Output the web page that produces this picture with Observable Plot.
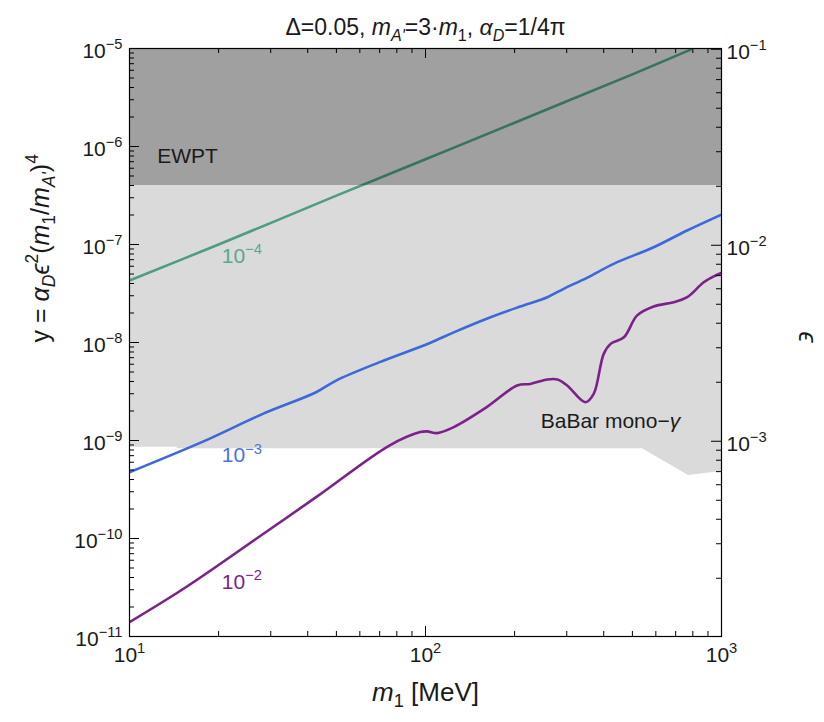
<!DOCTYPE html>
<html><head><meta charset="utf-8">
<script src="https://cdn.jsdelivr.net/npm/d3@7"></script>
<script src="https://cdn.jsdelivr.net/npm/@observablehq/plot@0.6"></script>
<style>body{margin:0;background:#fff}</style>
</head><body><div id="chart"></div>
<script>
// ---- data ----
const mRange = [10, 1000];
const yRange = [1e-11, 1e-5];
const alphaD = 1 / (4 * Math.PI);
const massRatio = 3; // m_A' = 3 m_1

const greenM = [10, 20, 50, 100, 200, 500, 790];
const greenY = [4.3e-8, 1.0e-7, 3.15e-7, 7.4e-7, 1.75e-6, 5.45e-6, 9.8e-6];

const blueM = [10, 18.6, 28.2, 42.7, 49.9, 70, 103, 124.6, 161, 209, 258, 293, 351, 432, 590, 765, 1000];
const blueY = [4.75e-10, 1.04e-9, 1.87e-9, 3.11e-9, 4.09e-9, 6.30e-9, 9.84e-9, 1.27e-8, 1.75e-8, 2.33e-8, 2.90e-8, 3.53e-8, 4.57e-8, 6.35e-8, 9.38e-8, 1.39e-7, 2.02e-7];

const purpleM = [10, 15.5, 26.8, 42.7, 75.5, 96, 101.3, 109.5, 124.6, 161, 204, 226, 258, 279, 301, 347, 370, 400, 422, 468, 519, 590, 690, 766, 871, 955, 1000];
const purpleY = [1.40e-11, 3.18e-11, 9.93e-11, 2.64e-10, 8.89e-10, 1.22e-9, 1.24e-9, 1.19e-9, 1.37e-9, 2.19e-9, 3.64e-9, 3.78e-9, 4.19e-9, 4.19e-9, 3.64e-9, 2.46e-9, 2.99e-9, 7.66e-9, 9.68e-9, 1.13e-8, 1.89e-8, 2.33e-8, 2.58e-8, 2.90e-8, 4.12e-8, 4.83e-8, 5.13e-8];

const babarM = [10, 14.5, 14.5, 541, 774, 1000];
const babarLow = [8.55e-10, 8.55e-10, 8.22e-10, 8.22e-10, 4.40e-10, 4.83e-10];
const ewptLevel = 4.0e-7;

const seriesNames = ["10^−4", "10^−3", "10^−2"];
const seriesColors = ["#4e9c84", "#3e68d8", "#7b2189"];

const xMajor = [10, 100, 1000];
const xMajorLabels = ["10^1", "10^2", "10^3"];
const yMajorExp = [-11, -10, -9, -8, -7, -6, -5];
const epsMajorExp = [-3, -2, -1];

// ---- derived tables ----
const epsToY = e => alphaD * e * e / Math.pow(massRatio, 4);
const series = [
  {name: seriesNames[0], color: seriesColors[0], m: greenM, y: greenY},
  {name: seriesNames[1], color: seriesColors[1], m: blueM, y: blueY},
  {name: seriesNames[2], color: seriesColors[2], m: purpleM, y: purpleY}
];
const babar = babarM.map((m, i) => ({m, lo: babarLow[i]}));
const xMinor = [], yMinor = [], epsMinor = [];
for (const e of [1, 2]) for (let j = 2; j <= 9; j++) xMinor.push(j * 10 ** e);
for (let e = -11; e <= -6; e++) for (let j = 2; j <= 9; j++) yMinor.push(j * 10 ** e);
for (let e = -4; e <= -2; e++) for (let j = 2; j <= 9; j++) epsMinor.push(j * 10 ** e);
const yMajor = yMajorExp.map(e => 10 ** e);
const epsMajor = epsMajorExp.map(e => 10 ** e);

const W = 824, H = 722, mt = 48, mb = 86, ml = 129, mr = 103;
const iw = W - ml - mr, ih = H - mt - mb;
const majLen = 10, minLen = 5;
const fsTick = 21;
const ink = "#1a1a1a";

const labelPos = [
  {t: seriesNames[0], m: 20.5, y: 7.55e-8, c: "#5aa690"},
  {t: seriesNames[1], m: 20.5, y: 7.0e-10, c: "#4a72dd"},
  {t: seriesNames[2], m: 20.5, y: 3.6e-11, c: "#7b2189"}
];

const plot = Plot.plot({
  width: W, height: H,
  marginTop: mt, marginBottom: mb, marginLeft: ml, marginRight: mr,
  style: {fontFamily: "'Liberation Sans', Arial, sans-serif", background: "white"},
  x: {type: "log", domain: mRange, axis: null},
  y: {type: "log", domain: yRange, axis: null},
  marks: [
    Plot.areaY(babar, {x: "m", y1: "lo", y2: () => yRange[1], fill: "#dadada"}),
    ...series.map(s => Plot.line(s.m.map((m, i) => ({m, y: s.y[i]})), {x: "m", y: "y", stroke: s.color, strokeWidth: 2.6, curve: "catmull-rom", clip: true})),
    Plot.rect([0], {x1: () => mRange[0], x2: () => mRange[1], y1: () => ewptLevel, y2: () => yRange[1], fill: "black", fillOpacity: 0.266}),
    Plot.text(labelPos, {x: "m", y: "y", text: "t", fill: "c", textAnchor: "start", fontSize: fsTick}),
    Plot.text(["EWPT"], {x: () => 12.4, y: () => 7.9e-7, text: d => d, textAnchor: "start", fontSize: 21, fill: ink}),
    Plot.text(["BABAR"], {x: () => 245, y: () => 1.56e-9, text: d => d, textAnchor: "start", fontSize: 21, fill: ink}),
    // ticks (inward)
    Plot.tickX(xMajor, {x: d => d, insetTop: ih - majLen, stroke: "black"}),
    Plot.tickX(xMinor, {x: d => d, insetTop: ih - minLen, stroke: "black"}),
    Plot.tickX(xMajor, {x: d => d, insetBottom: ih - majLen, stroke: "black"}),
    Plot.tickX(xMinor, {x: d => d, insetBottom: ih - minLen, stroke: "black"}),
    Plot.tickY(yMajor, {y: d => d, insetRight: iw - majLen, stroke: "black"}),
    Plot.tickY(yMinor, {y: d => d, insetRight: iw - minLen, stroke: "black"}),
    Plot.tickY(epsMajor, {y: d => epsToY(d), insetLeft: iw - majLen, stroke: "black"}),
    Plot.tickY(epsMinor.filter(e => epsToY(e) >= yRange[0]), {y: d => epsToY(d), insetLeft: iw - minLen, stroke: "black"}),
    Plot.frame({stroke: "black", strokeWidth: 1.2}),
    // tick labels
    Plot.text(xMajor, {x: d => d, text: (d, i) => xMajorLabels[i], frameAnchor: "bottom", dy: 25, fontSize: fsTick, fill: ink}),
    Plot.text(yMajor, {y: d => d, text: (d, i) => "10^" + String(yMajorExp[i]).replace("-", "−"), frameAnchor: "left", dx: -7, dy: 3, textAnchor: "end", fontSize: fsTick, fill: ink}),
    Plot.text(epsMajor, {y: d => epsToY(d), text: (d, i) => "10^" + String(epsMajorExp[i]).replace("-", "−"), frameAnchor: "right", dx: 5, dy: 3, textAnchor: "start", fontSize: fsTick, fill: ink}),
    // titles
    Plot.text(["TITLE"], {frameAnchor: "top", dy: -30, text: d => d, fontSize: 23, fill: ink}),
    Plot.text(["XLABEL"], {frameAnchor: "bottom", dy: 64, text: d => d, fontSize: 26, fill: ink}),
    Plot.text(["YLABEL"], {frameAnchor: "left", dx: -89, rotate: -90, text: d => d, fontSize: 25, fill: ink}),
    Plot.text(["EPSLABEL"], {frameAnchor: "right", dx: 85, rotate: 90, text: d => d, fontSize: 25, fill: ink})
  ]
});
document.getElementById("chart").appendChild(plot);

// ---- rich text (sub/superscripts, italics) ----
const rich = {
  TITLE: [["Δ=0.05, ", ""], ["m", "i"], ["A'", "sub i"], ["=3·", ""], ["m", "i"], ["1", "sub"], [", ", ""], ["α", "i"], ["D", "sub i"], ["=1/4π", ""]],
  XLABEL: [["m", "i"], ["1", "sub"], [" [MeV]", ""]],
  YLABEL: [["y = ", ""], ["α", "i"], ["D", "sub i"], ["ϵ", "i"], ["2", "sup"], ["(", ""], ["m", "i"], ["1", "sub"], ["/", ""], ["m", "i"], ["A'", "sub i"], [")", ""], ["4", "sup"]],
  EPSLABEL: [["ϵ", "i"]],
  BABAR: [["BaBar mono−", ""], ["γ", "i"]]
};
const NS = "http://www.w3.org/2000/svg";
plot.querySelectorAll("text").forEach(t => {
  const s = t.textContent;
  let segs = rich[s];
  if (!segs && /^10\^/.test(s)) segs = [["10", ""], [s.slice(3), "sup"]];
  if (!segs) return;
  const fs = parseFloat(getComputedStyle(t).fontSize) || 20;
  while (t.firstChild) t.removeChild(t.firstChild);
  let cur = 0;
  for (const [str, st] of segs) {
    const ts = document.createElementNS(NS, "tspan");
    ts.textContent = str;
    const target = st.includes("sub") ? 0.25 * fs : st.includes("sup") ? -0.42 * fs : 0;
    if (target !== cur) { ts.setAttribute("dy", target - cur); cur = target; }
    if (st.includes("sub") || st.includes("sup")) ts.setAttribute("font-size", 0.7 * fs);
    if (st.includes("i")) ts.setAttribute("font-style", "italic");
    t.appendChild(ts);
  }
});
</script>
</body></html>
